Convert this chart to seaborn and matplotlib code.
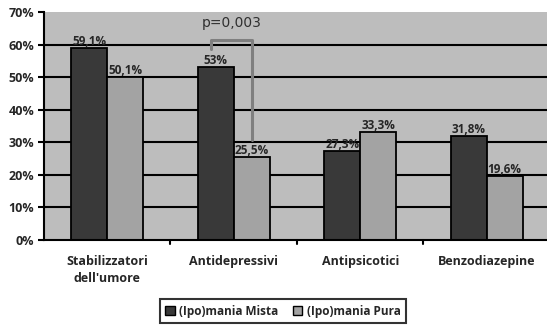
import matplotlib
matplotlib.use("Agg")
import matplotlib.pyplot as plt
import seaborn as sns
import pandas as pd
from matplotlib.patches import Patch

categories = ["Stabilizzatori\ndell'umore", "Antidepressivi", "Antipsicotici", "Benzodiazepine"]
series_names = ["(Ipo)mania Mista", "(Ipo)mania Pura"]
mista = [59.1, 53.0, 27.3, 31.8]
pura = [50.1, 25.5, 33.3, 19.6]
mista_labels = ["59,1%", "53%", "27,3%", "31,8%"]
pura_labels = ["50,1%", "25,5%", "33,3%", "19,6%"]
y_ticks = [0, 10, 20, 30, 40, 50, 60, 70]
p_text = "p=0,003"

colors = ["#393939", "#a3a3a3"]

df = pd.DataFrame({
    "categoria": categories * 2,
    "gruppo": [series_names[0]] * 4 + [series_names[1]] * 4,
    "valore": mista + pura,
})

sns.set_style("white")
plt.rcParams["font.family"] = ["Open Sans", "DejaVu Sans"]
plt.rcParams["font.weight"] = "bold"

fig = plt.figure(figsize=(5.47, 3.26), dpi=100)
ax = fig.add_axes([44 / 547, 86 / 326, 506 / 547, 228 / 326])
ax.set_facecolor("#bdbdbd")

sns.barplot(data=df, x="categoria", y="valore", hue="gruppo", order=categories,
            hue_order=series_names, palette=colors, width=0.57, ax=ax,
            edgecolor="black", linewidth=1.3, saturation=1, legend=False, zorder=3)

ax.set_ylim(0, 70)
ax.set_xlim(-0.5, 3.5)
ax.set_yticks(y_ticks)
ax.set_yticklabels([f"{t}%" for t in y_ticks], fontsize=9, fontweight="bold")
for t in y_ticks[1:-1]:
    ax.axhline(t, color="black", lw=1.5, zorder=1)

ax.set_xticks(range(len(categories)))
ax.set_xticklabels(categories, fontsize=9, fontweight="bold", linespacing=1.4)
ax.tick_params(axis="x", length=0, pad=11)
ax.tick_params(axis="y", length=4, width=1.5, color="black", direction="out", left=True, pad=3)
for b in [0.5, 1.5, 2.5]:
    ax.plot([b, b], [0, -0.018], transform=ax.get_xaxis_transform(), color="black",
            lw=1.5, clip_on=False)
ax.set_xlabel("")
ax.set_ylabel("")

for side in ["top", "right"]:
    ax.spines[side].set_visible(False)
ax.spines["left"].set_color("black")
ax.spines["left"].set_linewidth(1.5)
ax.spines["bottom"].set_color("black")
ax.spines["bottom"].set_linewidth(1.5)
ax.spines["left"].set_zorder(4)
ax.spines["bottom"].set_zorder(4)

containers = ax.containers
for cont, labels in zip(containers, [mista_labels, pura_labels]):
    ax.bar_label(cont, labels=labels, fontsize=8.5, fontweight="bold", padding=0, zorder=5)

# significance bracket between the Antidepressivi bars
x_left = containers[0][1].get_x() + containers[0][1].get_width() * 0.37
x_right = containers[1][1].get_x() + containers[1][1].get_width() * 0.5
ax.plot([x_left, x_left, x_right, x_right], [58.5, 61.3, 61.3, 30.7],
        color="#7f7f7f", lw=2.2, zorder=6, solid_joinstyle="round")
ax.text((x_left + x_right) / 2, 66.5, p_text, ha="center", va="center",
        fontsize=10, fontweight="normal", color="#303030", family=["DejaVu Sans"])

handles = [Patch(facecolor=c, edgecolor="black", linewidth=1) for c in colors]
leg = fig.legend(handles, series_names, loc="center", bbox_to_anchor=(283 / 547, 1 - 311 / 326),
                 ncol=2, frameon=True, fancybox=False, edgecolor="black",
                 prop={"size": 8.5, "weight": "bold"}, handlelength=0.8, handleheight=0.8,
                 handletextpad=0.4, columnspacing=1.2, borderpad=0.45)
leg.get_frame().set_linewidth(1.5)

fig.savefig("out.png", dpi=100)
